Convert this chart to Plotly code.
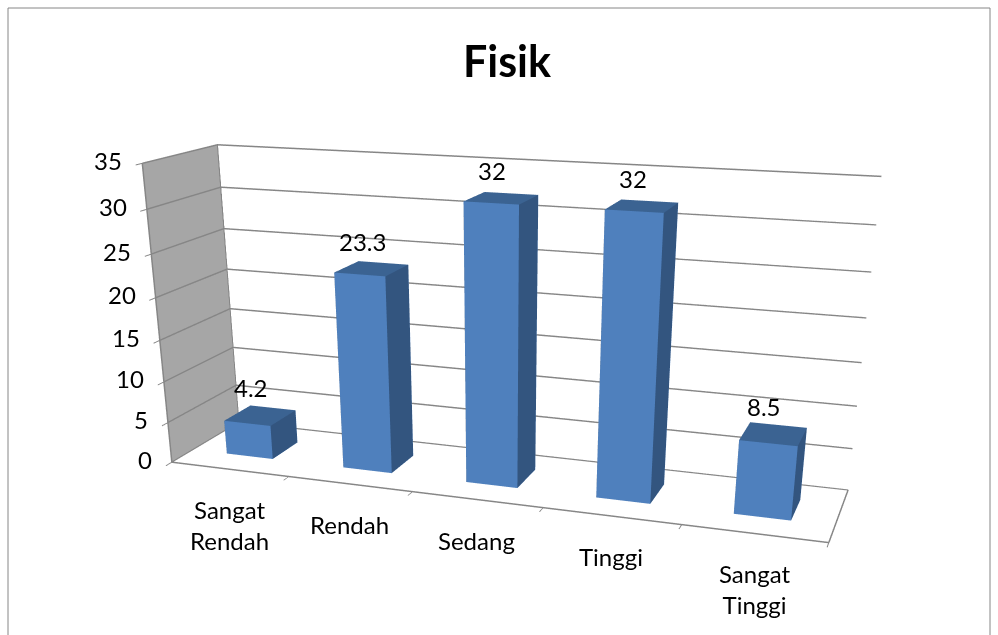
import plotly.graph_objects as go

categories = ["Sangat<br>Rendah", "Rendah", "Sedang", "Tinggi", "Sangat<br>Tinggi"]
values = [4.2, 23.3, 32, 32, 8.5]
labels = ["4.2", "23.3", "32", "32", "8.5"]
y_ticks = [0, 5, 10, 15, 20, 25, 30, 35]

FRONT = "#4F80BD"
SIDE = "#33557F"
TOP = "#3B6392"
GRID = "#868686"
FONT = "Lato"
# taller than the window: only the top part is seen, this gives the flatter perspective of the original
PAGE_H = 1200
half_w = 0.2
half_d = 0.2
depth = 1.0

fig = go.Figure()

# one box per category, each face with its own flat colour
face_colors = [FRONT, FRONT, TOP, TOP, FRONT, FRONT, SIDE, SIDE, FRONT, FRONT, SIDE, SIDE]
for i, val in enumerate(values):
    x0, x1 = i - half_w, i + half_w
    y0, y1 = depth / 2 - half_d, depth / 2 + half_d
    fig.add_trace(go.Mesh3d(
        x=[x0, x1, x1, x0, x0, x1, x1, x0],
        y=[y0, y0, y1, y1, y0, y0, y1, y1],
        z=[0, 0, 0, 0, val, val, val, val],
        i=[0, 0, 4, 4, 0, 0, 1, 1, 2, 2, 3, 3],
        j=[1, 2, 5, 6, 1, 5, 2, 6, 3, 7, 0, 4],
        k=[2, 3, 6, 7, 5, 4, 6, 5, 7, 6, 4, 7],
        facecolor=face_colors,
        flatshading=True,
        lighting=dict(ambient=1, diffuse=0, specular=0, fresnel=0, roughness=1),
        showscale=False,
        hoverinfo="skip",
    ))

# right edge of the floor
fig.add_trace(go.Scatter3d(x=[4.5, 4.5], y=[0, depth], z=[0, 0], mode="lines",
                           line=dict(color=GRID, width=3), hoverinfo="skip"))

notes = []
# data labels
for i, val in enumerate(values):
    notes.append(dict(x=i, y=depth / 2, z=val, text=labels[i], showarrow=False,
                      yanchor="bottom", xshift=-9, yshift=11, font=dict(family=FONT, size=24, color="black")))
# category labels under the front edge
for i, cat in enumerate(categories):
    notes.append(dict(x=i, y=0, z=0, text=cat, showarrow=False, yanchor="top", yshift=-24,
                      font=dict(family=FONT, size=24, color="black")))
# value axis labels
for t in y_ticks:
    notes.append(dict(x=-0.5, y=0, z=t, text=str(t), showarrow=False, xanchor="right", xshift=-18, yshift=3,
                      font=dict(family=FONT, size=24, color="black")))

fig.update_layout(
    width=998, height=PAGE_H,
    margin=dict(l=0, r=0, t=0, b=0),
    paper_bgcolor="white",
    showlegend=False,
    title=dict(text="<b>Fisik</b>", x=0.508, y=1 - 62 / PAGE_H, xanchor="center", yanchor="middle",
               font=dict(family=FONT, size=43, color="black")),
    scene=dict(
        xaxis=dict(title="", range=[-0.5, 4.5], tickvals=[-0.5, 0.5, 1.5, 2.5, 3.5, 4.5],
                   showticklabels=False, showgrid=False, showbackground=True, backgroundcolor="#A6A6A6",
                   showline=True, linecolor=GRID, linewidth=3, zeroline=False,
                   ticks="outside", tickcolor=GRID, ticklen=10, tickwidth=2),
        yaxis=dict(title="", range=[0, depth], tickvals=[0, depth], showticklabels=False,
                   showgrid=True, gridcolor=GRID, gridwidth=3, showbackground=True, backgroundcolor="white",
                   showline=True, linecolor=GRID, linewidth=3, zeroline=False, ticks=""),
        zaxis=dict(title="", range=[0, 35], tickvals=y_ticks, showticklabels=False,
                   gridcolor=GRID, gridwidth=3, showbackground=True, backgroundcolor="white",
                   showline=True, linecolor=GRID, linewidth=3, zeroline=False,
                   ticks="outside", tickcolor=GRID, ticklen=10, tickwidth=2),
        aspectmode="manual",
        aspectratio=dict(x=1.6, y=0.3436, z=0.7123),
        camera=dict(eye=dict(x=1.0716, y=-3.113, z=0.8178),
                    center=dict(x=0.1576, y=-0.4716, z=-0.4576),
                    up=dict(x=-0.0053, y=-0.0148, z=1)),
        annotations=notes,
    ),
    shapes=[dict(type="rect", xref="paper", yref="paper", x0=8 / 998, x1=990 / 998, y0=0, y1=1 - 8 / PAGE_H,
                 line=dict(color=GRID, width=1))],
)

# drop the default page margin so the picture sits at the window's corner
fig.write_html("out.html", config={"displayModeBar": False},
               post_script="document.body.style.margin='0';document.documentElement.style.overflow='hidden';")
